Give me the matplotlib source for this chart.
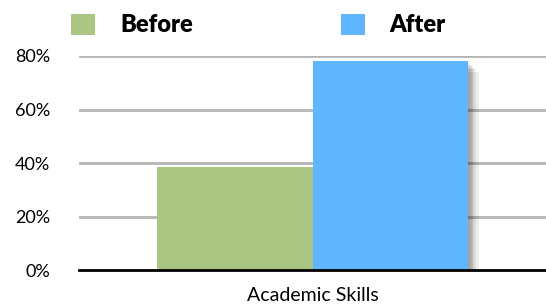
import matplotlib.pyplot as plt
import matplotlib.patheffects as pe
from matplotlib.patches import Patch

category = 'Academic Skills'
series = ['Before', 'After']
values = [38.5, 78.2]
colors = ['#abc683', '#60b5ff']
yticks = [0, 20, 40, 60, 80]

plt.rcParams['font.family'] = ['Lato', 'DejaVu Sans']

fig = plt.figure(figsize=(5.46, 3.04), dpi=100)
ax = fig.add_axes([0.1447, 0.1118, 0.8553, 0.704])

w = 0.332
# soft shadow made of a few offset layers
shadow = [pe.SimplePatchShadow(offset=(o, -o), shadow_rgbFace='black', alpha=0.07) for o in (2, 3, 4, 5, 6, 8)]
for i, (v, c) in enumerate(zip(values, colors)):
    x = (i - 0.5) * w
    ax.bar(x, v, width=w, color=c, zorder=3, path_effects=shadow + [pe.Normal()])

ax.set_xlim(-0.5, 0.5)
ax.set_ylim(0, 80)
ax.set_yticks(yticks)
ax.set_yticklabels([f'{t}%' for t in yticks], fontsize=13)
ax.set_xticks([0])
ax.set_xticklabels([category], fontsize=14)
ax.tick_params(length=0, pad=12)
ax.tick_params(axis='y', pad=21)
for t in yticks[1:]:
    ax.axhline(t, color='#b4b4b4', lw=2, zorder=1)
for s in ['top', 'right', 'left']:
    ax.spines[s].set_visible(False)
ax.spines['bottom'].set_linewidth(2)
ax.spines['bottom'].set_zorder(4)

handles = [Patch(facecolor=c, label=s) for s, c in zip(series, colors)]
fig.legend(handles=handles, loc='upper left', bbox_to_anchor=(0.092, 1.025), ncol=2, frameon=False,
           prop={'size': 17, 'weight': 'heavy'}, handlelength=1.0, handleheight=1.0,
           columnspacing=6.3, handletextpad=1.05)

fig.savefig('out.png', dpi=100)
